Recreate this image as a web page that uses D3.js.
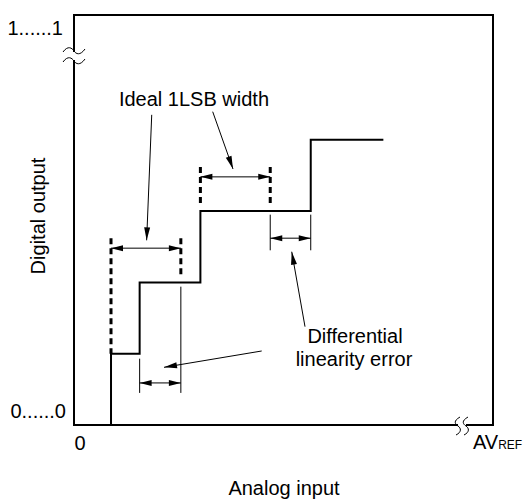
<!DOCTYPE html>
<html><head><meta charset="utf-8">
<script src="https://cdn.jsdelivr.net/npm/d3@7"></script>
<style>
body{margin:0;background:#fff}
svg{display:block}
text{font-family:"Liberation Sans",Arial,sans-serif;fill:#000}
</style>
</head><body><svg id="c" width="528" height="499"></svg>
<script>
// ---- data (input in LSB units, output in codes) ----
const stepEdges = [0.53, 0.94, 1.81, 3.39];   // transition points
const stepCodes = [1, 2, 3, 4];                // output code after each transition
const stepEnd = 4.43;                          // end of last drawn code
const idealStarts = [0.53, 1.81];              // ideal 1LSB width markers start
const idealWidth = 1.0;
const idealTop = [2.62, 3.62];
const idealArrowY = [2.48, 3.48];
const idealBottomL = [1.0, 3.06];
const idealBottomR = [2.07, 3.06];
const dleFrom = [0.94, 2.81];
const dleTo = [1.53, 3.39];
const dleArrowY = [0.59, 2.62];
const dleExtTopL = [0.93, 2.95];
const dleExtTopR = [1.94, 2.95];
const dleExtBot = [0.45, 2.45];
const yTickLabels = ["0......0", "1......1"];
const xTickLabels = ["0", "AV", "REF"];
const labelIdeal = "Ideal 1LSB width";
const labelDLE = ["Differential", "linearity error"];
// leader lines [x1,y1,x2,y2] in data units
const leaders = [[1.113, 4.35, 1.04, 2.59], [1.986, 4.394, 2.277, 3.59], [3.308, 1.379, 3.118, 2.43], [2.688, 1.038, 1.289, 0.809]];

const svg = d3.select("#c");
const x = d3.scaleLinear().domain([0, 6]).range([74, 493]);
const y = d3.scaleLinear().domain([0, 5.75]).range([425, 15]);

function arrowHead(g, x1, y1, x2, y2, len, hw) {
  const a = Math.atan2(y2 - y1, x2 - x1);
  const bx = x2 - len * Math.cos(a), by = y2 - len * Math.sin(a);
  const px = -Math.sin(a) * hw, py = Math.cos(a) * hw;
  g.append("path").attr("d", `M${x2},${y2}L${bx + px},${by + py}L${bx - px},${by - py}Z`).attr("fill", "#000");
}
function dimArrow(g, xa, xb, yy) {
  g.append("line").attr("x1", xa).attr("x2", xb).attr("y1", yy).attr("y2", yy).attr("stroke", "#000").attr("stroke-width", 1);
  arrowHead(g, xb, yy, xa, yy, 12, 3);
  arrowHead(g, xa, yy, xb, yy, 12, 3);
}

// frame
svg.append("rect").attr("x", x(0)).attr("y", y(5.75)).attr("width", x(6) - x(0)).attr("height", y(0) - y(5.75))
  .attr("fill", "none").attr("stroke", "#000").attr("stroke-width", 2);

// step
const pts = [[stepEdges[0], 0]];
stepEdges.forEach((e, i) => {
  pts.push([e, stepCodes[i]]);
  pts.push([i + 1 < stepEdges.length ? stepEdges[i + 1] : stepEnd, stepCodes[i]]);
});
svg.append("path").attr("d", d3.line().x(d => x(d[0])).y(d => y(d[1]))(pts))
  .attr("fill", "none").attr("stroke", "#000").attr("stroke-width", 2);

// ideal width markers
const g = svg.append("g");
idealStarts.forEach((s, i) => {
  g.append("line").attr("x1", x(s)).attr("x2", x(s)).attr("y1", y(idealTop[i])).attr("y2", y(idealBottomL[i]))
    .attr("stroke", "#000").attr("stroke-width", 3).attr("stroke-dasharray", "6,4");
  g.append("line").attr("x1", x(s + idealWidth)).attr("x2", x(s + idealWidth)).attr("y1", y(idealTop[i])).attr("y2", y(idealBottomR[i]))
    .attr("stroke", "#000").attr("stroke-width", 3).attr("stroke-dasharray", "6,4");
  dimArrow(g, x(s), x(s + idealWidth), y(idealArrowY[i]));
});

// DLE markers
dleFrom.forEach((a, i) => {
  const b = dleTo[i];
  g.append("line").attr("x1", x(a)).attr("x2", x(a)).attr("y1", y(dleExtTopL[i])).attr("y2", y(dleExtBot[i])).attr("stroke", "#000").attr("stroke-width", 1);
  g.append("line").attr("x1", x(b)).attr("x2", x(b)).attr("y1", y(dleExtTopR[i])).attr("y2", y(dleExtBot[i])).attr("stroke", "#000").attr("stroke-width", 1);
  dimArrow(g, x(a), x(b), y(dleArrowY[i]));
});

// leaders
leaders.forEach(l => {
  g.append("line").attr("x1", x(l[0])).attr("y1", y(l[1])).attr("x2", x(l[2])).attr("y2", y(l[3])).attr("stroke", "#000").attr("stroke-width", 1);
  arrowHead(g, x(l[0]), y(l[1]), x(l[2]), y(l[3]), 13, 3);
});

// axis break marks
function hWave(cx, cy) {
  return `M${cx - 11},${cy + 1} C${cx - 6},${cy - 6} ${cx - 2},${cy - 3} ${cx},${cy} S${cx + 6},${cy + 5} ${cx + 11},${cy - 2}`;
}
function vWave(cx, cy) {
  return `M${cx + 2},${cy - 9} C${cx - 5},${cy - 5} ${cx - 3},${cy - 2} ${cx},${cy} S${cx + 4},${cy + 6} ${cx - 2},${cy + 9}`;
}
const by = y(5.75) + 41;
svg.append("path").attr("d", `M${x(0) - 3},${by - 4} L${x(0) + 3},${by - 4} L${x(0) + 3},${by + 4} L${x(0) - 3},${by + 4}Z`).attr("fill", "#fff");
svg.append("path").attr("d", hWave(x(0), by - 5)).attr("fill", "none").attr("stroke", "#000").attr("stroke-width", 1);
svg.append("path").attr("d", hWave(x(0), by + 5)).attr("fill", "none").attr("stroke", "#000").attr("stroke-width", 1);
const bx = x(6) - 31;
svg.append("rect").attr("x", bx - 4).attr("y", y(0) - 3).attr("width", 8).attr("height", 6).attr("fill", "#fff");
svg.append("path").attr("d", vWave(bx - 4, y(0) + 1)).attr("fill", "none").attr("stroke", "#000").attr("stroke-width", 1);
svg.append("path").attr("d", vWave(bx + 4, y(0) + 1)).attr("fill", "none").attr("stroke", "#000").attr("stroke-width", 1);

// tick labels
const fs = 20;
svg.append("text").attr("x", x(0) - 8).attr("y", y(0) - 7).attr("text-anchor", "end").attr("font-size", fs).text(yTickLabels[0]);
svg.append("text").attr("x", x(0) - 11).attr("y", y(5.75) + 20).attr("text-anchor", "end").attr("font-size", fs).text(yTickLabels[1]);
svg.append("text").attr("x", x(0) + 6).attr("y", y(0) + 25).attr("text-anchor", "middle").attr("font-size", fs).text(xTickLabels[0]);
const av = svg.append("text").attr("x", x(6) - 20).attr("y", y(0) + 24).attr("font-size", fs);
av.append("tspan").text(xTickLabels[1]);
av.append("tspan").attr("font-size", 12).text(xTickLabels[2]);

// axis titles
svg.append("text").attr("transform", `translate(45,216) rotate(-90)`).attr("text-anchor", "middle").attr("font-size", fs).text("Digital output");
svg.append("text").attr("x", 284).attr("y", 495).attr("text-anchor", "middle").attr("font-size", fs).text("Analog input");

// annotation labels
svg.append("text").attr("x", 194).attr("y", 106).attr("text-anchor", "middle").attr("font-size", fs).text(labelIdeal);
svg.append("text").attr("x", 355).attr("y", 343).attr("text-anchor", "middle").attr("font-size", fs).text(labelDLE[0]);
svg.append("text").attr("x", 354).attr("y", 366).attr("text-anchor", "middle").attr("font-size", fs).text(labelDLE[1]);
</script></body></html>
